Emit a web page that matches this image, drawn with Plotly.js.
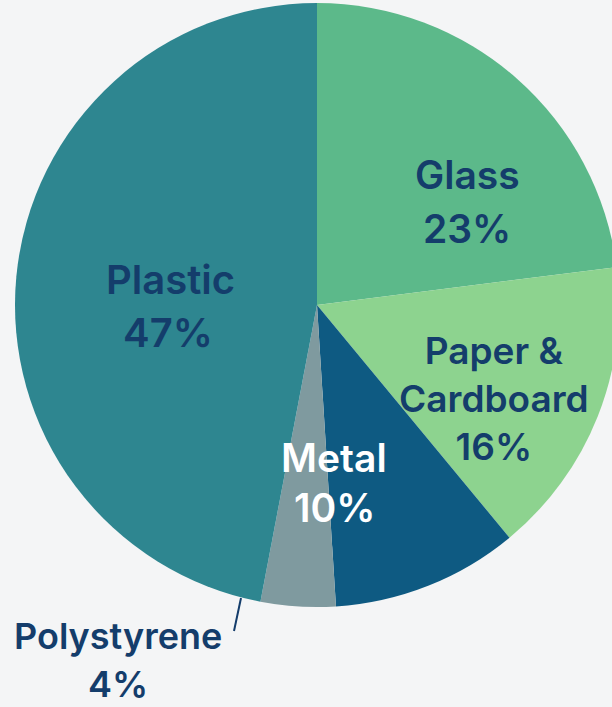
<!DOCTYPE html>
<html><head><meta charset="utf-8">
<script src="https://cdn.plot.ly/plotly-3.0.1.min.js"></script>
<style>html,body{margin:0;padding:0;overflow:hidden;background:#f4f5f6;}#chart{width:625px;height:707px;}</style>
</head><body><div id="chart"></div>
<script>
const categories = ["Glass", "Paper & Cardboard", "Metal", "Polystyrene", "Plastic"];
const values = [23, 16, 10, 4, 47];
const labelLines = [["Glass", "23%"], ["Paper &<br>Cardboard<br>16%"], ["Metal", "10%"], ["Polystyrene", "4%"], ["Plastic", "47%"]];
const colors = ["#5cb98a", "#8dd38f", "#0e5a82", "#7f9a9f", "#2e8690"];

const W = 625, H = 707;
const labelPos = [
  [[467, 174], [467, 228]],
  [[494, 399]],
  [[334, 457], [334, 507]],
  [[118, 636], [118, 684]],
  [[170, 279], [168, 333]]
];
const labelSizes = [39, 37, 39, 36, 40];
const labelColors = ["#143d6b", "#143d6b", "#ffffff", "#143d6b", "#143d6b"];
const annotations = [];
labelLines.forEach((lines, i) => {
  lines.forEach((t, j) => {
    annotations.push({
      text: t, xref: "paper", yref: "paper",
      x: labelPos[i][j][0] / W, y: 1 - labelPos[i][j][1] / H,
      xanchor: "center", yanchor: "middle", showarrow: false, align: "center",
      font: {family: "Inter, 'Open Sans', sans-serif", size: labelSizes[i], color: labelColors[i], weight: 600}
    });
  });
});

const trace = {
  type: "pie", labels: categories, values: values, sort: false,
  direction: "clockwise", rotation: 0,
  marker: {colors: colors, line: {width: 0}},
  textinfo: "none", hoverinfo: "none", showlegend: false,
  domain: {x: [15 / W, 619 / W], y: [1 - 607 / H, 1 - 3 / H]}
};
const layout = {
  width: W, height: H, margin: {l: 0, r: 0, t: 0, b: 0},
  paper_bgcolor: "#f4f5f6", plot_bgcolor: "#f4f5f6",
  annotations: annotations,
  shapes: [{type: "line", xref: "paper", yref: "paper",
    x0: 241 / W, y0: 1 - 598 / H, x1: 234 / W, y1: 1 - 631 / H,
    line: {color: "#143d6b", width: 2}}]
};
Plotly.newPlot("chart", [trace], layout, {staticPlot: true});
</script></body></html>
